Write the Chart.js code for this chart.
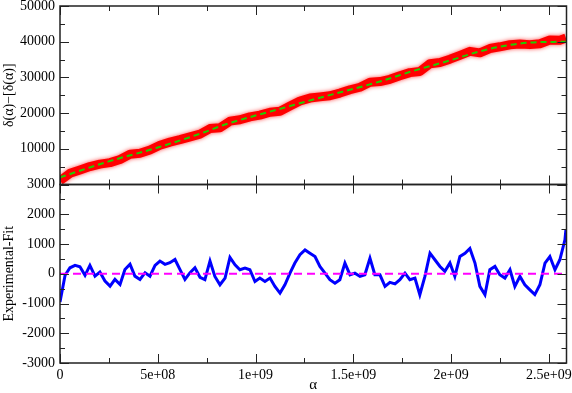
<!DOCTYPE html>
<html>
<head>
<meta charset="utf-8">
<script src="https://cdn.jsdelivr.net/npm/chart.js@4"></script>
<style>
  html, body { margin: 0; padding: 0; background: #fff; }
  canvas { display: block; }
</style>
</head>
<body>
<canvas id="chart" width="572" height="393"></canvas>
<script>
// alpha positions are in units of 1e8
const alphaExp = [0, 0.51, 1.02, 1.53, 2.04, 2.56, 3.07, 3.58, 4.09, 4.60, 5.11, 5.62, 6.13, 6.65, 7.16, 7.67, 8.18, 8.69, 9.20, 9.71,
  10.22, 10.74, 11.25, 11.76, 12.27, 12.78, 13.29, 13.80, 14.31, 14.83, 15.34, 15.85, 16.36, 16.87, 17.38, 17.89, 18.40, 18.92, 19.43, 19.94,
  20.45, 20.96, 21.47, 21.98, 22.49, 23.01, 23.52, 24.03, 24.54, 25.05, 25.56, 25.87];
const experimental = [1050, 3120, 4070, 5030, 5720, 6140, 7000, 8470, 8760, 9660, 11000, 11860, 12550, 13360, 14120, 15660, 15900, 17750, 18130, 18930,
  19450, 20250, 20530, 21980, 23380, 24210, 24550, 24860, 25620, 26540, 27240, 28620, 28820, 29450, 30440, 31330, 31650, 33840, 34190, 35110,
  36180, 37300, 36880, 38090, 38570, 39140, 39330, 39180, 39430, 40460, 40420, 41000];

const alphaFit = [0, 2.45, 4.96, 7.41, 8.44, 11.09, 13.29, 16.36, 18.05, 19.79, 21.47, 22.49, 23.88, 25.87];
const fitValues = [2000, 6400, 10300, 14700, 16800, 20950, 24300, 28850, 31800, 34500, 37300, 38600, 39700, 40000];

const alphaRes = [0, 0.26, 0.51, 0.77, 1.02, 1.28, 1.53, 1.79, 2.04, 2.30, 2.56, 2.81, 3.07, 3.32, 3.58, 3.83, 4.09, 4.35, 4.60, 4.86,
  5.11, 5.37, 5.62, 5.88, 6.13, 6.39, 6.65, 6.90, 7.16, 7.41, 7.67, 7.92, 8.18, 8.44, 8.69, 8.95, 9.20, 9.46, 9.71, 9.97,
  10.22, 10.48, 10.74, 10.99, 11.25, 11.50, 11.76, 12.01, 12.27, 12.53, 12.78, 13.04, 13.29, 13.55, 13.80, 14.06, 14.31, 14.57, 14.83, 15.08,
  15.34, 15.59, 15.85, 16.10, 16.36, 16.62, 16.87, 17.13, 17.38, 17.64, 17.89, 18.15, 18.40, 18.66, 18.92, 19.17, 19.43, 19.68, 19.94, 20.19,
  20.45, 20.71, 20.96, 21.22, 21.47, 21.73, 21.98, 22.24, 22.49, 22.75, 23.01, 23.26, 23.52, 23.77, 24.03, 24.28, 24.54, 24.80, 25.05, 25.31,
  25.56, 25.82, 25.87];
const residual = [-950, -50, 200, 280, 235, -55, 280, -80, 55, -245, -415, -190, -360, 145, 320, -80, -190, 35, -80, 280,
  425, 315, 370, 480, 145, -190, 35, 200, -120, -200, 430, -90, -370, -145, 550, 300, 135, 190, 135, -260,
  -145, -260, -145, -425, -650, -370, 20, 360, 640, 800, 690, 580, 245, 20, -200, -315, -200, 360, -35, 20,
  -90, -35, 525, -35, -35, -425, -290, -340, -200, 20, -200, -145, -705, -90, 690, 470, 245, 80, 360, -90,
  580, 690, 850, 360, -425, -705, 135, 245, -35, -145, 135, -425, -90, -370, -540, -700, -370, 360, 580, 135,
  470, 1140, 1480];

const zeroAlpha = [0, 25.9];
const zeroLine = [0, 0];

const xTicks = [0, 5e8, 1e9, 1.5e9, 2e9, 2.5e9];

const pts = (xs, ys) => xs.map((a, i) => ({ x: a * 1e8, y: ys[i] }));
const font = { family: '"Liberation Serif", "Times New Roman", serif', size: 14 };

function expLabel(v) {
    if (v === 0) return '0';
    return v.toExponential().replace(/e\+(\d)$/, 'e+0$1');
}

// frame + inward ticks on all four sides of each panel
const frameTicks = {
    id: 'frameTicks',
    beforeDatasetDraw(chart, args) {
        // soft fuzzy edge on the noisy experimental band
        if (args.index === 2) {
            chart.ctx.save();
            chart.ctx.shadowColor = 'rgba(255,0,0,0.7)';
            chart.ctx.shadowBlur = 4;
        }
    },
    afterDatasetDraw(chart, args) {
        if (args.index === 2) chart.ctx.restore();
    },
    afterDatasetsDraw(chart) {
        const ctx = chart.ctx;
        const xs = chart.scales.x;
        const l = xs.left, r = xs.right;
        ctx.save();
        ctx.strokeStyle = '#222';
        [chart.scales.yTop, chart.scales.yBot].forEach(ys => {
            const t = ys.top, b = ys.bottom;
            ctx.lineWidth = 1;
            ctx.beginPath();
            for (let v = 0; v <= xs.max; v += 2.5e8) {
                const px = Math.round(xs.getPixelForValue(v)) + 0.5;
                const len = (v % 5e8 === 0) ? 9 : 5;
                ctx.moveTo(px, t); ctx.lineTo(px, t + len);
                ctx.moveTo(px, b); ctx.lineTo(px, b - len);
            }
            const step = ys.options.ticks.stepSize;
            for (let v = ys.min; v <= ys.max; v += step / 2) {
                const py = Math.round(ys.getPixelForValue(v)) + 0.5;
                const len = (v % step === 0) ? 9 : 5;
                ctx.moveTo(l, py); ctx.lineTo(l + len, py);
                ctx.moveTo(r, py); ctx.lineTo(r - len, py);
            }
            ctx.stroke();
            ctx.lineWidth = 1.5;
            ctx.strokeRect(l, t, r - l, b - t);
        });
        ctx.restore();
    }
};

const yAxisFit = s => { s.width = 60; s.paddingTop = 0; s.paddingBottom = 0; };

new Chart(document.getElementById('chart'), {
    type: 'line',
    data: {
        datasets: [
            {
                data: pts(alphaFit, fitValues), yAxisID: 'yTop', order: 0,
                borderColor: '#22cc00', borderWidth: 2, borderDash: [6, 4],
                cubicInterpolationMode: 'monotone', pointRadius: 0, clip: 0
            },
            {
                data: pts(zeroAlpha, zeroLine), yAxisID: 'yBot', order: 1,
                borderColor: '#ff00ff', borderWidth: 2, borderDash: [8, 5],
                pointRadius: 0, clip: 0
            },
            {
                data: pts(alphaExp, experimental), yAxisID: 'yTop', order: 2,
                borderColor: '#ff0000', borderWidth: 9, borderJoinStyle: 'round', pointRadius: 0, clip: 0
            },
            {
                data: pts(alphaRes, residual), yAxisID: 'yBot', order: 3,
                borderColor: '#0000ff', borderWidth: 3, pointRadius: 0, clip: 0
            }
        ]
    },
    options: {
        responsive: false,
        animation: false,
        layout: { padding: { top: 6, right: 5.5, left: 0, bottom: 0 } },
        plugins: { legend: { display: false }, tooltip: { enabled: false } },
        scales: {
            x: {
                type: 'linear', min: 0, max: 2.59e9,
                grid: { display: false, drawTicks: false }, border: { display: false },
                afterBuildTicks: s => { s.ticks = xTicks.map(v => ({ value: v })); },
                afterFit: s => { s.height = 30; s.paddingLeft = 0; s.paddingRight = 0; },
                ticks: { color: '#000', font, padding: 4, maxRotation: 0, autoSkip: false, callback: expLabel },
                title: { display: true, text: 'α', color: '#000', font: { ...font, size: 15, lineHeight: 1 }, padding: { top: 0, bottom: 0 } }
            },
            yBot: {
                type: 'linear', position: 'left', stack: 'panels', stackWeight: 1,
                min: -3000, max: 3000,
                grid: { display: false, drawTicks: false }, border: { display: false },
                afterFit: yAxisFit,
                ticks: { color: '#000', font, padding: 5, stepSize: 1000, autoSkip: false, callback: v => String(v) },
                title: { display: true, text: 'Experimental-Fit', color: '#000', font: { ...font, lineHeight: 1 }, padding: { top: 2, bottom: 0 } }
            },
            yTop: {
                type: 'linear', position: 'left', stack: 'panels', stackWeight: 1,
                min: 0, max: 50000,
                grid: { display: false, drawTicks: false }, border: { display: false },
                afterFit: yAxisFit,
                ticks: { color: '#000', font, padding: 5, stepSize: 10000, autoSkip: false, callback: v => v === 0 ? '' : String(v) },
                title: { display: true, text: 'δ(α)−[δ(α)]', color: '#000', font: { ...font, lineHeight: 1 }, padding: { top: 2, bottom: 0 } }
            }
        }
    },
    plugins: [frameTicks]
});
</script>
</body>
</html>
